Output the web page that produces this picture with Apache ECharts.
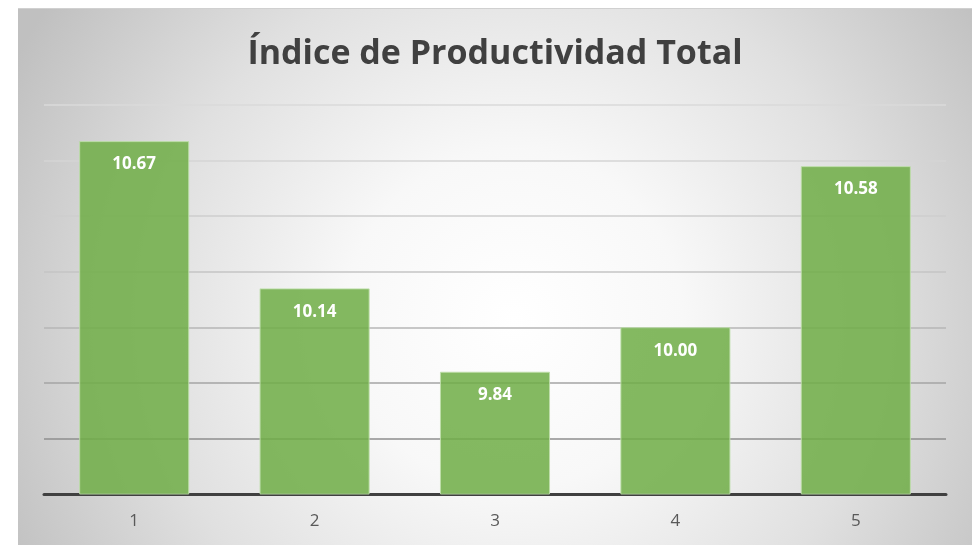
<!DOCTYPE html>
<html>
<head>
<meta charset="utf-8">
<script src="https://cdn.jsdelivr.net/npm/echarts@6/dist/echarts.min.js"></script>
<style>
  html, body { margin: 0; padding: 0; background: #ffffff; }
  #wrap { position: relative; width: 978px; height: 545px; overflow: hidden; }
  #chart { position: absolute; left: 18px; top: 8px; width: 954px; height: 537px;
           border-top: 1px solid #d0d0d0; box-sizing: border-box; }
</style>
</head>
<body>
<div id="wrap"><div id="chart"></div></div>
<script>
// Productivity index per period
const chartTitle = 'Índice de Productividad Total';
const categories = ['1', '2', '3', '4', '5'];
const productividad = [10.67, 10.14, 9.84, 10.00, 10.58];

// Value axis range (no tick labels shown, only gridlines)
const yMin = 9.4;
const yMax = 10.8;
const yStep = 0.2;

// Gridlines fade from darker near the base to lighter at the top
const gridColors = ['#444444', '#8e8e8e', '#a4a4a4', '#b6b6b6', '#c4c4c4', '#cecece', '#d5d5d5', '#dadada'];

const chart = echarts.init(document.getElementById('chart'), null, { renderer: 'canvas' });

chart.setOption({
  backgroundColor: {
    type: 'radial', x: 0.52, y: 0.58, r: 1.05,
    colorStops: [
      { offset: 0, color: '#ffffff' },
      { offset: 0.3, color: '#f8f8f8' },
      { offset: 0.65, color: '#e0e0e0' },
      { offset: 1, color: '#c0c0c0' }
    ]
  },
  animation: false,
  title: {
    text: chartTitle,
    left: 'center',
    top: 23,
    textStyle: {
      fontFamily: 'Open Sans',
      fontWeight: 'bold',
      fontSize: 34,
      color: '#404040'
    }
  },
  grid: { left: 26, right: 26, top: 96, bottom: 51, containLabel: false },
  xAxis: {
    type: 'category',
    data: categories,
    axisLine: { show: true, lineStyle: { color: '#404040', width: 3 } },
    axisTick: { show: false },
    axisLabel: {
      color: '#595959',
      fontFamily: 'Open Sans',
      fontSize: 17,
      margin: 19
    }
  },
  yAxis: {
    type: 'value',
    min: yMin,
    max: yMax,
    interval: yStep,
    axisLine: { show: false },
    axisTick: { show: false },
    axisLabel: { show: false },
    splitLine: { show: true, lineStyle: { color: gridColors, width: 1.5 } }
  },
  series: [{
    type: 'bar',
    data: productividad,
    barCategoryGap: '39%',
    itemStyle: {
      color: 'rgba(112,173,71,0.86)',
      borderColor: 'rgba(190,222,170,0.9)',
      borderWidth: 1
    },
    label: {
      show: true,
      position: 'insideTop',
      distance: 15,
      formatter: p => p.value.toFixed(2),
      color: '#ffffff',
      fontFamily: 'Open Sans',
      fontWeight: 'bold',
      fontSize: 17
    }
  }]
});
</script>
</body>
</html>
